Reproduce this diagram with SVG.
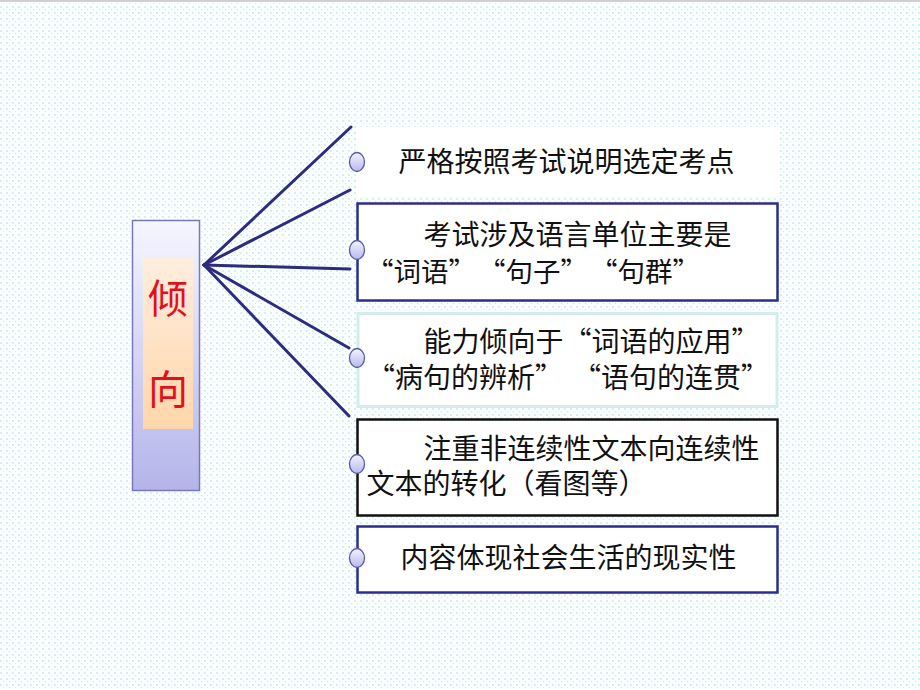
<svg xmlns="http://www.w3.org/2000/svg" width="920" height="690" viewBox="0 0 920 690">
<defs>
<pattern id="dots" width="6" height="6" patternUnits="userSpaceOnUse">
<rect width="6" height="6" fill="#fbfefe"/>
<rect x="0" y="0" width="2" height="2" fill="#d6f0f0"/>
<rect x="3" y="3" width="1" height="1" fill="#d8dede"/>
</pattern>
<linearGradient id="gLeft" x1="0" y1="0" x2="0" y2="1">
<stop offset="0" stop-color="#f6f6ff"/>
<stop offset="1" stop-color="#b4b4ea"/>
</linearGradient>
<linearGradient id="gInner" x1="0" y1="0" x2="0" y2="1">
<stop offset="0" stop-color="#ffeedd"/>
<stop offset="1" stop-color="#ffd6aa"/>
</linearGradient>
<linearGradient id="gDot" x1="0" y1="0" x2="0" y2="1">
<stop offset="0" stop-color="#f4f4ff"/>
<stop offset="1" stop-color="#b8b8ec"/>
</linearGradient>
</defs>
<style>
.t{font-family:"Noto Sans CJK SC","Liberation Sans",sans-serif;font-size:28px;fill:#111}
.q{font-size:27.5px}
.box{fill:#ffffff}
.dot{fill:url(#gDot);stroke:#5a5aa8;stroke-width:1.3}
.con{stroke:#2c2c7e;stroke-width:3;fill:none;stroke-linecap:round}
.big{font-family:"Noto Sans CJK SC",sans-serif;font-size:40px;fill:#e3101c}
</style>
<rect width="920" height="690" fill="url(#dots)"/>
<rect x="0" y="0" width="920" height="2" fill="#d0d0d0"/>

<g id="left">
<rect x="132.5" y="220.5" width="67" height="270" fill="url(#gLeft)" stroke="#7878c0" stroke-width="1.5"/>
<rect x="143" y="258" width="50" height="171" fill="url(#gInner)"/>
<text class="big" x="168" y="313" text-anchor="middle">倾</text>
<text class="big" x="168" y="404" text-anchor="middle">向</text>
</g>

<g id="connectors">
<line class="con" x1="204" y1="265" x2="351" y2="127"/>
<line class="con" x1="204" y1="265" x2="350" y2="190"/>
<line class="con" x1="204" y1="265" x2="350" y2="269"/>
<line class="con" x1="204" y1="265" x2="349" y2="348"/>
<line class="con" x1="204" y1="265" x2="349" y2="416"/>
</g>

<g id="n1">
<rect class="box" x="356" y="127" width="423" height="69"/>
<ellipse class="dot" cx="357" cy="162" rx="7.5" ry="9.5"/>
<text class="t" x="398.5" y="172">严格按照考试说明选定考点</text>
</g>

<g id="n2">
<rect class="box" x="357.5" y="203.5" width="420" height="97" stroke="#2c2c90" stroke-width="2.5"/>
<ellipse class="dot" cx="357" cy="250" rx="7.5" ry="9.5"/>
<text class="t" x="423.5" y="245">考试涉及语言单位主要是</text>
<text class="t q" x="366" y="282">“词语”</text>
<text class="t q" x="478" y="282">“句子”</text>
<text class="t q" x="590" y="282">“句群”</text>
</g>

<g id="n3">
<rect class="box" x="358" y="313.5" width="419" height="93" stroke="#d6ecec" stroke-width="3"/>
<ellipse class="dot" cx="357" cy="358" rx="7.5" ry="9.5"/>
<text class="t" x="423.5" y="352">能力倾向于“词语的应用”</text>
<text class="t" x="367" y="388">“病句的辨析”</text>
<text class="t" x="573" y="388">“语句的连贯”</text>
</g>

<g id="n4">
<rect class="box" x="357.5" y="419.5" width="420" height="96" stroke="#111111" stroke-width="2.5"/>
<ellipse class="dot" cx="357" cy="464" rx="7.5" ry="9.5"/>
<text class="t" x="423.5" y="459">注重非连续性文本向连续性</text>
<text class="t" x="366.5" y="494">文本的转化（看图等）</text>
</g>

<g id="n5">
<rect class="box" x="357.5" y="526.5" width="420" height="66" stroke="#2c2c90" stroke-width="2.5"/>
<ellipse class="dot" cx="357" cy="558" rx="7.5" ry="9.5"/>
<text class="t" x="400.5" y="568">内容体现社会生活的现实性</text>
</g>
</svg>
